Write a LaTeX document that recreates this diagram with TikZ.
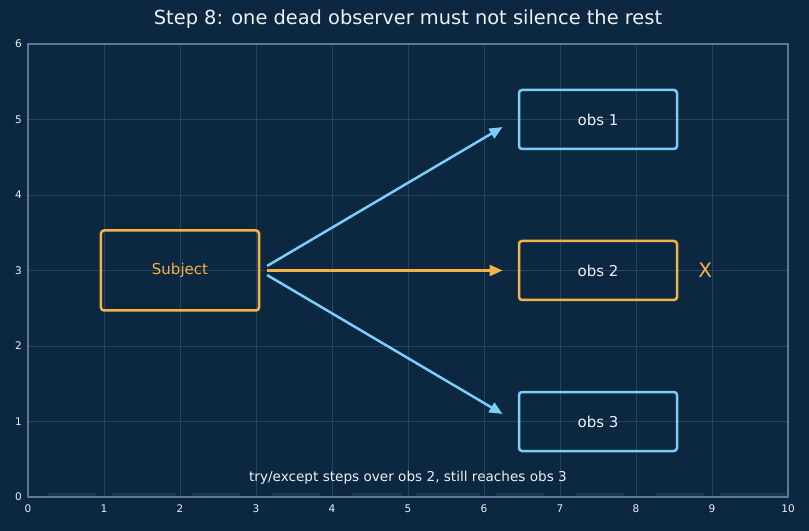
\documentclass[tikz,border=0pt]{standalone}
\usepackage{fontspec}
\setmainfont{DejaVu Sans}
\usetikzlibrary{arrows.meta,calc}
\definecolor{bgc}{RGB}{12,40,64}
\definecolor{gridc}{RGB}{38,68,94}
\definecolor{framec}{RGB}{92,122,148}
\definecolor{orng}{RGB}{245,178,72}
\definecolor{skyb}{RGB}{125,205,250}
\definecolor{txtc}{RGB}{236,240,245}
\definecolor{blockc}{RGB}{28,56,82}
\tikzset{
  obsbox/.style={draw, line width=2.5bp, rounded corners=3bp, minimum width=158bp, minimum height=59bp, text=txtc, font=\fontsize{15bp}{18bp}\selectfont, inner sep=0pt},
  subjbox/.style={obsbox, draw=orng, text=orng, minimum height=80bp},
  conn/.style={line width=2.5bp, -{Triangle[length=13bp,width=11bp]}},
  ticklab/.style={text=txtc, font=\fontsize{10.5bp}{12bp}\selectfont, inner sep=0pt},
}
\begin{document}
\begin{tikzpicture}[x=76bp, y=75.5bp]
\fill[bgc] (-0.3684,-0.4503) rectangle (10.2763,6.5828);
\useasboundingbox (-0.3684,-0.4503) rectangle (10.2763,6.5828);
% grid
\foreach \i in {1,...,9} \draw[gridc, line width=0.8bp] (\i,0) -- (\i,6);
\foreach \j in {1,...,5} \draw[gridc, line width=0.8bp] (0,\j) -- (10,\j);
% faint blocks along the bottom
\foreach \a/\b in {48/96,112/176,192/240,272/320,352/402,416/480,496/544,576/624,656/704,720/785}
  \fill[blockc] ({(\a-28)/76},0) rectangle ({(\b-28)/76},0.05);
% frame
\draw[framec, line width=1.3bp] (0,0) rectangle (10,6);
% tick labels
\foreach \i in {0,...,10} \node[ticklab, anchor=north] (xt\i) at (\i,-0.1) {\i};
\foreach \j in {0,...,6} \node[ticklab, anchor=east] (yt\j) at (-0.08,\j) {\j};
% title
\node[text=txtc, font=\fontsize{19.4bp}{22bp}\selectfont, inner sep=0pt] (title) at (5,6.33) {Step 8: one dead observer must not silence the rest};
% boxes
\node[subjbox] (subj) at (2,3) {Subject};
\node[obsbox, draw=skyb] (obs1) at (7.5,5) {obs 1};
\node[obsbox, draw=orng] (obs2) at (7.5,3) {obs 2};
\node[obsbox, draw=skyb] (obs3) at (7.5,1) {obs 3};
\node[text=orng, font=\fontsize{20bp}{24bp}\selectfont, inner sep=0pt] (dead) at (8.91,3.0) {X};
% connector ends
\coordinate (s1) at ($(subj.east)+(0.09,0.06)$);
\coordinate (s2) at ($(subj.east)+(0.09,0)$);
\coordinate (s3) at ($(subj.east)+(0.09,-0.06)$);
\coordinate (e1) at ($(obs1.west)+(-0.2,-0.1)$);
\coordinate (e2) at ($(obs2.west)+(-0.2,0)$);
\coordinate (e3) at ($(obs3.west)+(-0.2,0.1)$);
\draw[conn, skyb] (s1) -- (e1);
\draw[conn, orng] (s2) -- (e2);
\draw[conn, skyb] (s3) -- (e3);
% caption
\node[text=txtc, font=\fontsize{13.6bp}{16bp}\selectfont, inner sep=0pt] (cap) at (5,0.26) {try/except steps over obs 2, still reaches obs 3};
\end{tikzpicture}
\end{document}
